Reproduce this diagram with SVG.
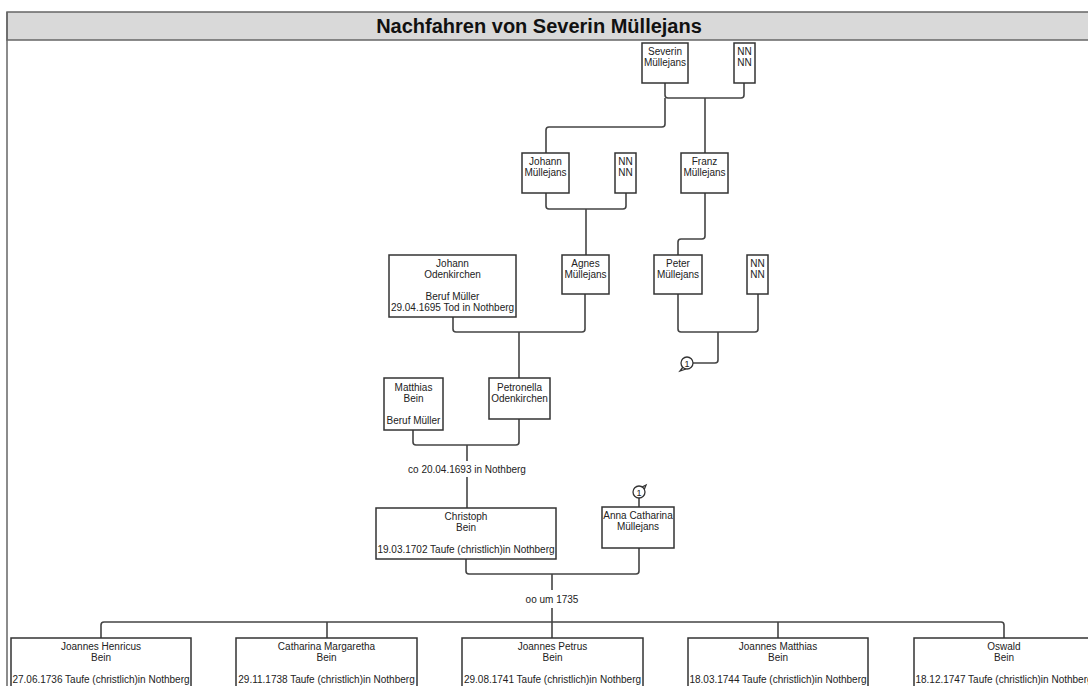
<svg xmlns="http://www.w3.org/2000/svg" width="1088" height="686" viewBox="0 0 1088 686">
<style>
.box{fill:#fff;stroke:#333;stroke-width:1.5}
.t{font-family:"Liberation Sans",Arial,sans-serif;font-size:10px;fill:#222;text-anchor:middle}
.c{fill:none;stroke:#444;stroke-width:1.6;stroke-linejoin:round}
.mk{fill:#fff;stroke:#333;stroke-width:1.3}
.title{font-family:"Liberation Sans",Arial,sans-serif;font-size:20px;font-weight:bold;fill:#111;text-anchor:middle}
</style>
<rect width="1088" height="686" fill="#fff"/>
<g id="frame">
<rect x="7" y="12" width="1090" height="28" fill="#d9d9d9" stroke="#666" stroke-width="1.5"/>
<line x1="7" y1="12" x2="7" y2="690" stroke="#666" stroke-width="1.5"/>
<text class="title" x="539" y="33">Nachfahren von Severin Müllejans</text>
</g>
<g id="connectors">
<path class="c" d="M665,83 V95 Q665,98 668,98 H741 Q744,98 744,95 V83"/>
<path class="c" d="M705,98 V153"/>
<path class="c" d="M665,98 V124 Q665,127 662,127 H549 Q546,127 546,130 V153"/>
<path class="c" d="M546,193 V206 Q546,209 549,209 H623 Q626,209 626,206 V193"/>
<path class="c" d="M586,209 V255"/>
<path class="c" d="M705,193 V236 Q705,239 702,239 H681 Q678,239 678,242 V255"/>
<path class="c" d="M453,317 V329 Q453,332 456,332 H582 Q585,332 585,329 V294"/>
<path class="c" d="M519,332 V378"/>
<path class="c" d="M678,294 V329 Q678,332 681,332 H755 Q758,332 758,329 V294"/>
<path class="c" d="M718,332 V360 Q718,363 715,363 H693"/>
<path class="c" d="M413,430 V442 Q413,445 416,445 H516 Q519,445 519,442 V419"/>
<path class="c" d="M467,445 V461"/>
<path class="c" d="M467,477 V508"/>
<path class="c" d="M466,559 V571 Q466,574 469,574 H636 Q639,574 639,571 V548"/>
<path class="c" d="M639,498 V507"/>
<path class="c" d="M552,574 V590"/>
<path class="c" d="M552,608 V638"/>
<path class="c" d="M101,638 V625 Q101,622 104,622 H1001 Q1004,622 1004,625 V638"/>
<path class="c" d="M327,622 V638"/>
<path class="c" d="M778,622 V638"/>
</g>
<g id="labels">
<text class="t" x="467" y="473">co 20.04.1693 in Nothberg</text>
<text class="t" x="552" y="603">oo um 1735</text>
</g>
<g id="marker1">
<path class="mk" d="M683,367 L680,371 L686,369"/>
<circle class="mk" cx="687" cy="363" r="6"/>
<text class="t" x="687" y="366.5" style="font-size:9px">1</text>
</g>
<g id="marker2">
<path class="mk" d="M642,487 L646,485 L644,490"/>
<circle class="mk" cx="639" cy="492" r="6"/>
<text class="t" x="639" y="495.5" style="font-size:9px">1</text>
</g>
<g id="severin">
<rect class="box" x="642" y="43" width="46" height="40"/>
<text class="t" x="665" y="55">Severin</text>
<text class="t" x="665" y="66">Müllejans</text>
</g>
<g id="nn1">
<rect class="box" x="734" y="43" width="21" height="40"/>
<text class="t" x="744.5" y="55">NN</text>
<text class="t" x="744.5" y="66">NN</text>
</g>
<g id="johann-muellejans">
<rect class="box" x="522" y="153" width="47" height="40"/>
<text class="t" x="545.5" y="165">Johann</text>
<text class="t" x="545.5" y="176">Müllejans</text>
</g>
<g id="nn2">
<rect class="box" x="615" y="153" width="21" height="40"/>
<text class="t" x="625.5" y="165">NN</text>
<text class="t" x="625.5" y="176">NN</text>
</g>
<g id="franz">
<rect class="box" x="681" y="153" width="47" height="40"/>
<text class="t" x="704.5" y="165">Franz</text>
<text class="t" x="704.5" y="176">Müllejans</text>
</g>
<g id="johann-odenkirchen">
<rect class="box" x="389" y="255" width="127" height="62"/>
<text class="t" x="452.5" y="267">Johann</text>
<text class="t" x="452.5" y="278">Odenkirchen</text>
<text class="t" x="452.5" y="300">Beruf Müller</text>
<text class="t" x="452.5" y="311">29.04.1695 Tod in Nothberg</text>
</g>
<g id="agnes">
<rect class="box" x="562" y="255" width="47" height="39"/>
<text class="t" x="585.5" y="267">Agnes</text>
<text class="t" x="585.5" y="278">Müllejans</text>
</g>
<g id="peter">
<rect class="box" x="654" y="255" width="48" height="39"/>
<text class="t" x="678" y="267">Peter</text>
<text class="t" x="678" y="278">Müllejans</text>
</g>
<g id="nn3">
<rect class="box" x="747" y="255" width="21" height="39"/>
<text class="t" x="757.5" y="267">NN</text>
<text class="t" x="757.5" y="278">NN</text>
</g>
<g id="matthias">
<rect class="box" x="384" y="378" width="59" height="52"/>
<text class="t" x="413.5" y="391">Matthias</text>
<text class="t" x="413.5" y="402">Bein</text>
<text class="t" x="413.5" y="424">Beruf Müller</text>
</g>
<g id="petronella">
<rect class="box" x="489" y="378" width="61" height="41"/>
<text class="t" x="519.5" y="391">Petronella</text>
<text class="t" x="519.5" y="402">Odenkirchen</text>
</g>
<g id="christoph">
<rect class="box" x="376" y="508" width="180" height="51"/>
<text class="t" x="466" y="520">Christoph</text>
<text class="t" x="466" y="531">Bein</text>
<text class="t" x="466" y="553">19.03.1702 Taufe (christlich)in Nothberg</text>
</g>
<g id="anna">
<rect class="box" x="602" y="507" width="72" height="41"/>
<text class="t" x="638" y="519">Anna Catharina</text>
<text class="t" x="638" y="530">Müllejans</text>
</g>
<g id="joannes-henricus">
<rect class="box" x="11" y="638" width="180" height="60"/>
<text class="t" x="101" y="650">Joannes Henricus</text>
<text class="t" x="101" y="661">Bein</text>
<text class="t" x="101" y="683">27.06.1736 Taufe (christlich)in Nothberg</text>
</g>
<g id="catharina-margaretha">
<rect class="box" x="236" y="638" width="181" height="60"/>
<text class="t" x="326.5" y="650">Catharina Margaretha</text>
<text class="t" x="326.5" y="661">Bein</text>
<text class="t" x="326.5" y="683">29.11.1738 Taufe (christlich)in Nothberg</text>
</g>
<g id="joannes-petrus">
<rect class="box" x="462" y="638" width="181" height="60"/>
<text class="t" x="552.5" y="650">Joannes Petrus</text>
<text class="t" x="552.5" y="661">Bein</text>
<text class="t" x="552.5" y="683">29.08.1741 Taufe (christlich)in Nothberg</text>
</g>
<g id="joannes-matthias">
<rect class="box" x="688" y="638" width="180" height="60"/>
<text class="t" x="778" y="650">Joannes Matthias</text>
<text class="t" x="778" y="661">Bein</text>
<text class="t" x="778" y="683">18.03.1744 Taufe (christlich)in Nothberg</text>
</g>
<g id="oswald">
<rect class="box" x="914" y="638" width="181" height="60"/>
<text class="t" x="1004" y="650">Oswald</text>
<text class="t" x="1004" y="661">Bein</text>
<text class="t" x="1004" y="683">18.12.1747 Taufe (christlich)in Nothberg</text>
</g>
</svg>
